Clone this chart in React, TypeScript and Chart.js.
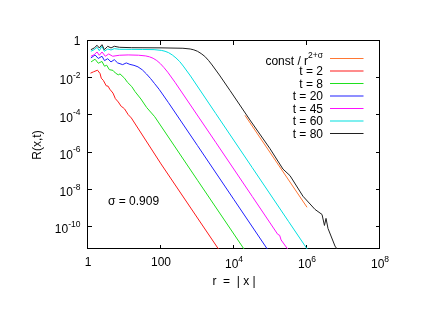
import React, { useEffect, useRef } from "react";
import { Chart, registerables } from "chart.js";

Chart.register(...registerables);

// ---- tick positions and labels ----
const xTickValues = [1, 100, 1e4, 1e6, 1e8];
const xTickLabels = ["1", "100", "10^4", "10^6", "10^8"];
const yTickValues = [1, 1e-2, 1e-4, 1e-6, 1e-8, 1e-10];
const yTickLabels = ["1", "10^-2", "10^-4", "10^-6", "10^-8", "10^-10"];
const xRange = [1, 1e8];
const yRange = [6.5e-12, 1];

const xTitle = "r  =  | x |";
const yTitle = "R(x,t)";
const sigmaNote = "σ = 0.909";

// ---- series (legend order) ----
const seriesLabels = ["const / r^{2+σ}", "t = 2", "t = 8", "t = 20", "t = 45", "t = 60", "t = 80"];
const seriesColors = ["#ff7733", "#ff1a1a", "#1ee01e", "#2020ff", "#ff10ff", "#00e0e0", "#202020"];

const constR = [2e4, 1e6];
const constVal = [1.0e-4, 1.14e-9];

const t2R = [1.17, 1.41, 1.82, 2.14, 2.31, 2.63, 3.16, 3.55, 3.94, 4.84, 5.62, 6.76, 8.17, 9.12, 10.1, 12.6, 15.4, 100, 1000, 4470];
const t2Val = [0.0186, 0.0219, 0.0269, 0.0178, 0.01, 7.59e-3, 3.89e-3, 3.72e-3, 2.57e-3, 1.58e-3, 7.94e-4, 5.25e-4, 3.02e-4, 2.63e-4, 2.19e-4, 1.1e-4, 7.24e-5, 2.45e-7, 3.02e-10, 3.9e-12];

const t8R = [1.21, 1.56, 1.91, 2.42, 2.83, 3.25, 3.84, 4.84, 5.62, 6.76, 7.53, 10, 12.1, 15.8, 19.4, 28.2, 40.6, 67.1, 1000, 22400];
const t8Val = [0.0748, 0.105, 0.0637, 0.0794, 0.044, 0.0501, 0.0288, 0.0263, 0.019, 0.0151, 0.017, 0.01, 5.96e-3, 3.55e-3, 1.91e-3, 7.59e-4, 2.63e-4, 8.51e-5, 3.24e-8, 3.9e-12];

const t20R = [1.2, 1.56, 1.91, 2.42, 2.83, 3.47, 4.27, 5.25, 6.5, 8.91, 11.2, 14.1, 18.2, 23.4, 30.9, 39.8, 51.3, 66.1, 89.1, 158, 1000, 1e4, 1e5];
const t20Val = [0.122, 0.178, 0.115, 0.151, 0.0879, 0.112, 0.0748, 0.0993, 0.0661, 0.0537, 0.0661, 0.055, 0.049, 0.0407, 0.0279, 0.017, 9.77e-3, 5.25e-3, 2.51e-3, 5.01e-4, 2.36e-6, 2.91e-9, 3.59e-12];

const t45R = [1.2, 1.48, 1.77, 2.04, 2.42, 2.98, 3.69, 4.75, 7.24, 12.6, 24.2, 38.4, 48.3, 60.8, 76.6, 96.4, 121, 153, 242, 3162, 3.16e4, 1.58e5, 1.78e5, 1.95e5, 3.55e5];
const t45Val = [0.151, 0.184, 0.257, 0.171, 0.257, 0.151, 0.201, 0.151, 0.171, 0.178, 0.172, 0.157, 0.141, 0.118, 0.0889, 0.0603, 0.0369, 0.021, 6.03e-3, 3.55e-6, 4.37e-9, 3.98e-11, 3.55e-11, 2.0e-11, 3.9e-12];

const t60R = [1.2, 1.48, 1.77, 2.04, 2.42, 2.8, 3.47, 4.27, 5.25, 7.24, 15.8, 31.6, 64.6, 102, 129, 162, 204, 257, 324, 407, 646, 3162, 3.16e4, 3.16e5, 1.12e6];
const t60Val = [0.281, 0.342, 0.459, 0.302, 0.52, 0.281, 0.372, 0.329, 0.386, 0.359, 0.355, 0.351, 0.343, 0.313, 0.281, 0.235, 0.177, 0.123, 0.079, 0.045, 0.013, 1.26e-4, 1.55e-7, 1.9e-10, 4.8e-12];

const t80R = [1.2, 1.48, 1.77, 2.04, 2.42, 2.8, 3.47, 4.27, 5.25, 7.24, 15.8, 100, 398, 631, 794, 1000, 1259, 1585, 1995, 2512, 3981, 7762, 2.74e4, 9.68e4, 2.2e5, 3.42e5, 7.76e5, 1.66e6, 2.58e6, 3.01e6, 3.32e6, 3.76e6, 5.85e6, 7.06e6];
const t80Val = [0.341, 0.422, 0.589, 0.422, 0.634, 0.341, 0.52, 0.422, 0.52, 0.459, 0.437, 0.427, 0.407, 0.372, 0.334, 0.279, 0.211, 0.149, 0.0912, 0.0513, 0.0148, 2.19e-3, 5.62e-5, 1.62e-6, 1.29e-7, 5.75e-8, 4.47e-9, 8.71e-10, 4.68e-10, 1.2e-10, 2.88e-10, 8.3e-11, 9.3e-12, 5.5e-12];

const seriesR = [constR, t2R, t8R, t20R, t45R, t60R, t80R];
const seriesVal = [constVal, t2Val, t8Val, t20Val, t45Val, t60Val, t80Val];

// ---- text helpers ----
const FAMILY = '"Liberation Sans", Arial, Helvetica, sans-serif';
const BASE_SIZE = 12;
const SUP_SIZE = 8.5;
const RAISE = 6.5;

type Part = { text: string; sup: boolean };

function parseRich(s: string): Part[] {
  const parts: Part[] = [];
  let buf = "";
  let i = 0;
  while (i < s.length) {
    if (s[i] === "^") {
      if (buf) { parts.push({ text: buf, sup: false }); buf = ""; }
      i++;
      let t = "";
      if (s[i] === "{") {
        i++;
        while (i < s.length && s[i] !== "}") t += s[i++];
        i++;
      } else {
        while (i < s.length && s[i] !== " ") t += s[i++];
      }
      parts.push({ text: t, sup: true });
    } else {
      buf += s[i++];
    }
  }
  if (buf) parts.push({ text: buf, sup: false });
  return parts;
}

function drawRich(ctx: CanvasRenderingContext2D, s: string, x: number, yc: number, align: "left" | "center" | "right") {
  const parts = parseRich(s);
  const hasSup = parts.some((p) => p.sup);
  let total = 0;
  const widths = parts.map((p) => {
    ctx.font = `${p.sup ? SUP_SIZE : BASE_SIZE}px ${FAMILY}`;
    const w = ctx.measureText(p.text).width;
    total += w;
    return w;
  });
  const top = hasSup ? RAISE + SUP_SIZE * 0.716 : BASE_SIZE * 0.716;
  const baseline = yc + top / 2;
  let cx = align === "left" ? x : align === "center" ? x - total / 2 : x - total;
  ctx.textAlign = "left";
  ctx.textBaseline = "alphabetic";
  parts.forEach((p, i) => {
    ctx.font = `${p.sup ? SUP_SIZE : BASE_SIZE}px ${FAMILY}`;
    ctx.fillText(p.text, cx, p.sup ? baseline - RAISE : baseline);
    cx += widths[i];
  });
}

const decorPlugin = {
  id: "gnuplotDecor",
  beforeDatasetsDraw(chart: any) {
    const { ctx, chartArea } = chart;
    const { left, right, top, bottom } = chartArea;
    const xs = chart.scales.x;
    const ys = chart.scales.y;
    ctx.save();
    ctx.strokeStyle = "#000";
    ctx.lineWidth = 1;
    ctx.strokeRect(left - 0.5, top - 0.5, right - left, bottom - top);
    const T = 4;
    ctx.beginPath();
    xTickValues.forEach((v) => {
      const px = Math.round(xs.getPixelForValue(v)) - 0.5;
      ctx.moveTo(px, bottom);
      ctx.lineTo(px, bottom - T);
      ctx.moveTo(px, top);
      ctx.lineTo(px, top + T);
    });
    yTickValues.forEach((v) => {
      const py = Math.round(ys.getPixelForValue(v)) - 0.5;
      ctx.moveTo(left, py);
      ctx.lineTo(left + T, py);
      ctx.moveTo(right, py);
      ctx.lineTo(right - T, py);
    });
    ctx.stroke();
    ctx.restore();
  },
  afterDraw(chart: any) {
    const { ctx, chartArea } = chart;
    const { left, right, top, bottom } = chartArea;
    const xs = chart.scales.x;
    const ys = chart.scales.y;
    ctx.save();
    ctx.fillStyle = "#000";
    // tick labels
    xTickValues.forEach((v, i) => {
      drawRich(ctx, xTickLabels[i], xs.getPixelForValue(v), bottom + 13, "center");
    });
    yTickValues.forEach((v, i) => {
      drawRich(ctx, yTickLabels[i], left - 7.5, ys.getPixelForValue(v), "right");
    });
    // axis titles
    drawRich(ctx, xTitle, (left + right) / 2, bottom + 32, "center");
    ctx.save();
    ctx.translate(left - 47, (top + bottom) / 2);
    ctx.rotate(-Math.PI / 2);
    ctx.font = `${BASE_SIZE}px ${FAMILY}`;
    ctx.textAlign = "center";
    ctx.textBaseline = "alphabetic";
    ctx.fillText(yTitle, 0, 0);
    ctx.restore();
    // annotation
    drawRich(ctx, sigmaNote, left + 20, top + 159.5, "left");
    ctx.restore();
    // legend
    const textRight = left + 235;
    const lx0 = left + 242;
    const lx1 = left + 275.5;
    seriesLabels.forEach((lab, i) => {
      const y = top + 17.5 + i * 12.5;
      ctx.save();
      ctx.fillStyle = "#000";
      drawRich(ctx, lab, textRight, y, "right");
      ctx.restore();
      ctx.save();
      ctx.strokeStyle = seriesColors[i];
      ctx.lineWidth = 1.2;
      ctx.setLineDash([]);
      ctx.beginPath();
      ctx.moveTo(lx0, y);
      ctx.lineTo(lx1, y);
      ctx.stroke();
      ctx.restore();
    });
  },
};

export default function App() {
  const ref = useRef<HTMLCanvasElement | null>(null);
  useEffect(() => {
    if (!ref.current) return;
    const n = seriesLabels.length;
    const datasets = seriesLabels.map((lab, i) => ({
      label: lab,
      data: seriesR[i].map((r, j) => ({ x: r, y: seriesVal[i][j] })),
      borderColor: seriesColors[i],
      backgroundColor: seriesColors[i],
      borderWidth: 1,
      pointRadius: 0,
      tension: 0,
      fill: false,
      order: n - 1 - i,
    }));
    const chart = new Chart(ref.current, {
      type: "line",
      data: { datasets },
      options: {
        animation: false,
        responsive: false,
        devicePixelRatio: 1,
        layout: { padding: { left: 88, top: 41, right: 60, bottom: 62 } },
        plugins: { legend: { display: false }, tooltip: { enabled: false } },
        scales: {
          x: { type: "logarithmic", min: xRange[0], max: xRange[1], display: false },
          y: { type: "logarithmic", min: yRange[0], max: yRange[1], display: false },
        },
      },
      plugins: [decorPlugin],
    } as any);
    return () => chart.destroy();
  }, []);
  return (
    <div style={{ position: "fixed", left: 0, top: 0, width: 440, height: 311, background: "#fff" }}>
      <canvas ref={ref} width={440} height={311} />
    </div>
  );
}
